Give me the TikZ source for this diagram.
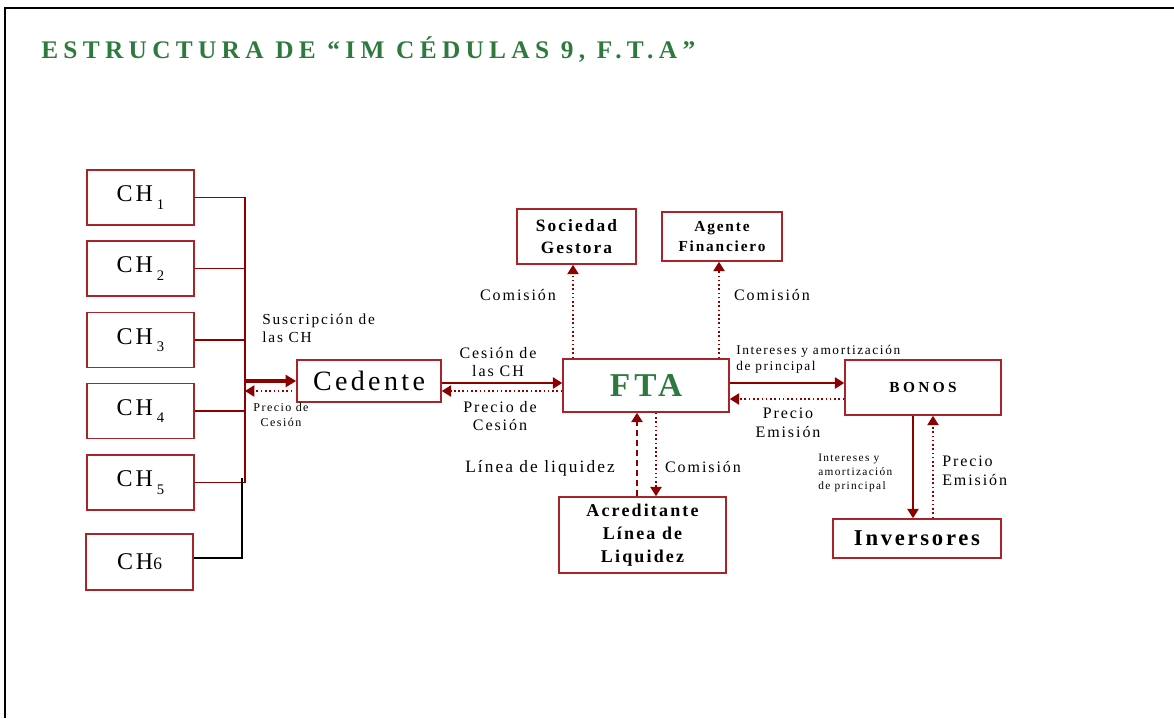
\documentclass[tikz,border=0pt]{standalone}
\usepackage{fontspec}
\setmainfont{Liberation Serif}[LetterSpace=12]
\newfontfamily\titlefont{Liberation Serif}[LetterSpace=21]
\newfontfamily\widefont{Liberation Serif}[LetterSpace=22]
\usetikzlibrary{arrows.meta,calc}
\definecolor{boxred}{RGB}{170,35,40}
\definecolor{arrred}{RGB}{140,0,0}
\definecolor{tgreen}{RGB}{46,122,62}
\newcommand\fs[2]{\fontsize{#1}{#2}\selectfont}
\newcommand\chsub[1]{CH\,\raisebox{-0.32em}{\fs{11}{12}#1}}
\tikzset{
  box/.style={draw=boxred, line width=1.2pt, inner sep=0pt, align=center, text=black},
  conn/.style={draw=arrred, line width=1.2pt, -{Triangle[length=7pt,width=8.5pt]}},
  dotconn/.style={conn, dotted, line width=1pt},
  dashconn/.style={conn, dash pattern=on 4.5pt off 3pt},
  lbl/.style={inner sep=0pt, align=center},
  lbll/.style={inner sep=0pt, align=left, anchor=west},
}
\begin{document}
\begin{tikzpicture}[x=0.75pt,y=-0.75pt]
\useasboundingbox (0,0) rectangle (1174,718);
% frame
\draw[line width=1.6pt] (1174,8) -- (5,8) -- (5,718);
% title
\node[lbll, text=tgreen, font=\titlefont\bfseries\fs{19}{21}] (title) at (41,50) {ESTRUCTURA DE “IM CÉDULAS 9, F.T.A”};

% CH boxes
\tikzset{chbox/.style={box, minimum width=80.25pt, minimum height=41.25pt, font=\fs{18}{20}}}
\node[chbox] (ch1) at (140.5,197.5) {\chsub{1}};
\node[chbox] (ch2) at (140.5,268.5) {\chsub{2}};
\node[chbox] (ch3) at (140.5,340) {\chsub{3}};
\node[chbox] (ch4) at (140.5,411) {\chsub{4}};
\node[chbox] (ch5) at (140.5,482.5) {\chsub{5}};
\node[chbox, minimum height=42pt] (ch6) at (139.5,562) {CH{\fs{13}{14}6}};

% bus
\coordinate (busT) at (245,197);
\coordinate (busB) at (245,483);
\coordinate (busM) at (245,381);
\draw[arrred, line width=1.2pt] (busT) -- (busB);
\foreach \c in {ch1,ch2,ch3,ch4,ch5}
  \draw[arrred, line width=1.2pt] (\c.east) -- (\c.east -| busT);
\coordinate (b6) at (242,478);
\draw[black, line width=1.2pt] ($(ch6.east)+(0,-4)$) -| (b6);

% Cedente
\node[box, minimum width=108pt, minimum height=31.5pt, font=\fs{21}{24}] (ced) at (369,381) {Cedente};
\draw[conn, line width=2.4pt, -{Triangle[length=8pt,width=9pt]}] (busM) -- (ced.west);
\draw[dotconn] ($(ced.west)+(-4,10)$) -- ($(busM)+(0,10)$);
\node[lbll, font=\fs{11.5}{13.5}] (susc) at (262,328) {Suscripción de\\las CH};
\node[lbl, font=\fs{9}{11.5}] (pc1) at (281,415) {Precio de\\Cesión};

% FTA
\node[box, minimum width=124.5pt, minimum height=39.75pt, text=tgreen, font=\bfseries\fs{25}{28}] (fta) at (646,385.5) {FTA};
\draw[conn] ($(ced.east)+(0,2)$) -- ($(fta.west)+(0,-2.5)$);
\draw[dotconn] ($(fta.west)+(0,5.5)$) -- ($(ced.east)+(0,10)$);
\node[lbl, font=\fs{12}{13.5}] (cesion) at (498,362) {Cesión de\\las CH};
\node[lbl, font=\fs{12}{13.5}] (pc2) at (500,416) {Precio de\\Cesión};

% Sociedad Gestora, Agente Financiero
\node[box, minimum width=89.25pt, minimum height=41.25pt, font=\bfseries\fs{13}{16.5}] (soc) at (576.5,236.5) {Sociedad\\Gestora};
\node[box, minimum width=90pt, minimum height=36.75pt, font=\bfseries\fs{11.5}{14.5}] (age) at (722,236.5) {Agente\\Financiero};
\coordinate (s1) at ($(fta.north)+(-73,0)$);
\coordinate (s2) at ($(fta.north)+(73,0)$);
\draw[dotconn] (s1) -- (s1 |- soc.south);
\draw[dotconn] (s2) -- (s2 |- age.south);
\node[lbl, font=\fs{12}{14}] (com1) at (518,295) {Comisión};
\node[lbl, font=\fs{12}{14}] (com2) at (772,295) {Comisión};

% Acreditante
\node[box, minimum width=125.25pt, minimum height=57pt, font=\bfseries\fs{13.5}{17}] (acr) at (642.5,535) {Acreditante\\Línea de\\Liquidez};
\coordinate (s3) at ($(acr.north)+(-5.5,0)$);
\coordinate (s4) at ($(fta.south)+(10,0)$);
\draw[dashconn] (s3) -- (s3 |- fta.south);
\draw[dotconn] (s4) -- (s4 |- acr.north);
\node[lbl, font=\fs{13}{15}] (lin) at (540,468) {Línea de liquidez};
\node[lbl, font=\fs{12}{14}] (com3) at (703,467) {Comisión};

% BONOS
\node[box, minimum width=117pt, minimum height=41.25pt, font=\widefont\bfseries\fs{11.5}{13}] (bon) at (923,387.5) {BONOS};
\draw[conn] ($(fta.east)+(0,-2.5)$) -- ($(bon.west)+(0,-4.5)$);
\draw[dotconn] ($(bon.west)+(0,11.5)$) -- ($(fta.east)+(0,13.5)$);
\node[lbll, font=\fs{10}{12}] (int1) at (736,359) {Intereses y amortización\\de principal};
\node[lbl, font=\fs{12}{14}] (pe1) at (788,423) {Precio\\Emisión};

% Inversores
\node[box, minimum width=126pt, minimum height=29.25pt, font=\bfseries\fs{17}{19}] (inv) at (917,538.5) {Inversores};
\coordinate (s5) at ($(bon.south)+(-10,0)$);
\coordinate (s6) at ($(inv.north)+(16,0)$);
\draw[conn] (s5) -- (s5 |- inv.north);
\draw[dotconn] (s6) -- (s6 |- bon.south);
\node[lbll, font=\fs{8.5}{10.5}] (int2) at (818,473) {Intereses y\\amortización\\de principal};
\node[lbll, font=\fs{12}{14}] (pe2) at (942,471) {Precio\\Emisión};
\end{tikzpicture}
\end{document}
